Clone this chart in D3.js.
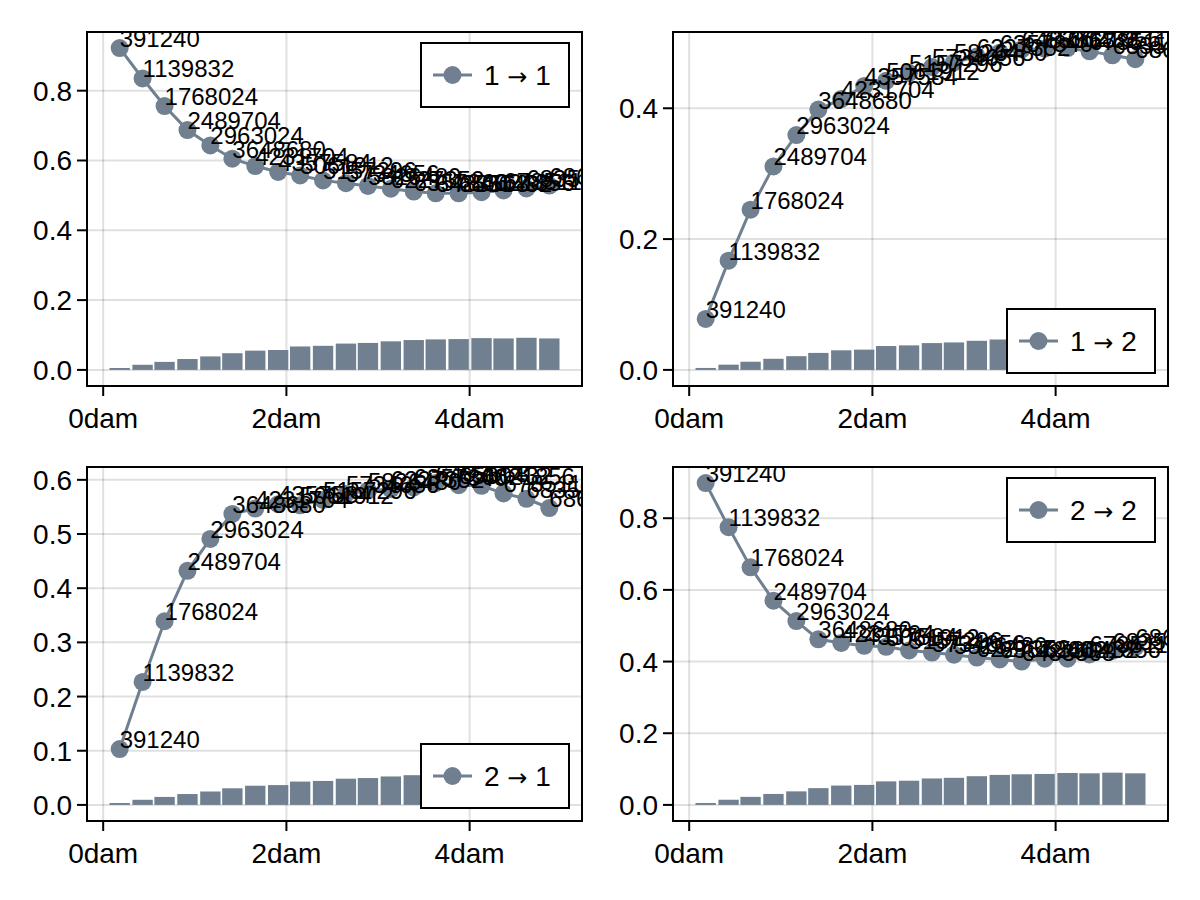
<!DOCTYPE html>
<html><head><meta charset="utf-8">
<script src="https://cdn.jsdelivr.net/npm/d3@7"></script>
<style>body{margin:0;background:#fff} svg{display:block}</style>
</head><body>
<script>
// ---------- data ----------
const distances = [0.18, 0.43, 0.67, 0.92, 1.17, 1.41, 1.66, 1.91, 2.15, 2.40, 2.65, 2.89, 3.14, 3.39, 3.63, 3.88, 4.13, 4.37, 4.62, 4.87];
const pointLabels = ["391240","1139832","1768024","2489704","2963024","3648680","4231704","4357584","5061912","5157296","5734656","5826480","6227352","6357840","6483568","6530432","6621856","6785112","6835920","6860400"];
const series11 = [0.922, 0.835, 0.756, 0.687, 0.643, 0.605, 0.584, 0.567, 0.557, 0.543, 0.535, 0.527, 0.519, 0.511, 0.506, 0.506, 0.509, 0.514, 0.520, 0.528];
const series12 = [0.078, 0.167, 0.245, 0.311, 0.359, 0.398, 0.414, 0.434, 0.442, 0.454, 0.463, 0.470, 0.479, 0.485, 0.490, 0.491, 0.492, 0.487, 0.481, 0.475];
const series21 = [0.103, 0.227, 0.339, 0.432, 0.491, 0.537, 0.547, 0.555, 0.553, 0.563, 0.574, 0.580, 0.583, 0.586, 0.594, 0.590, 0.589, 0.575, 0.565, 0.548];
const series22 = [0.898, 0.775, 0.663, 0.570, 0.513, 0.462, 0.452, 0.444, 0.441, 0.431, 0.425, 0.419, 0.411, 0.406, 0.400, 0.408, 0.408, 0.420, 0.430, 0.440];
const barShare = [0.06, 0.16, 0.25, 0.34, 0.42, 0.52, 0.60, 0.62, 0.73, 0.75, 0.82, 0.84, 0.89, 0.93, 0.95, 0.96, 0.99, 0.98, 1.00, 0.98];
const barMax = [0.092, 0.050, 0.059, 0.090];
const panelFrom = ["1", "1", "2", "2"];
const panelTo = ["1", "2", "1", "2"];
const yTicks11 = [0, 0.2, 0.4, 0.6, 0.8];
const yTicks12 = [0, 0.2, 0.4];
const yTicks21 = [0, 0.1, 0.2, 0.3, 0.4, 0.5, 0.6];
const yTicks22 = [0, 0.2, 0.4, 0.6, 0.8];
const xTicks = [0, 2, 4];
const xUnit = "dam";
const legendCorner = ["rt", "rb", "rb", "rt"];

// ---------- layout ----------
const W = 1200, H = 900;
const color = "#708090";
const font = "'Liberation Sans', Arial, Helvetica, sans-serif";
const panels = [
  {x0: 87, x1: 582, y0: 32, y1: 386, s: series11, t: yTicks11},
  {x0: 673, x1: 1168, y0: 32, y1: 386, s: series12, t: yTicks12},
  {x0: 87, x1: 582, y0: 467, y1: 821, s: series21, t: yTicks21},
  {x0: 673, x1: 1168, y0: 467, y1: 821, s: series22, t: yTicks22}
];
const spacing = (distances[distances.length-1] - distances[0]) / (distances.length - 1);
const barW = spacing * 0.9;

const svg = d3.select("body").append("svg").attr("width", W).attr("height", H)
  .style("font-family", font);

panels.forEach((p, k) => {
  const bars = barShare.map((v, i) => ({x: distances[i], h: v * barMax[k]}));
  const pts = p.s.map((v, i) => ({x: distances[i], y: v, label: pointLabels[i]}));
  const xlo = distances[0] - barW/2, xhi = distances[distances.length-1] + barW/2;
  const xm = (xhi - xlo) * 0.05;
  const ylo = Math.min(0, d3.min(p.s)), yhi = d3.max(p.s);
  const ym = (yhi - ylo) * 0.05;
  const x = d3.scaleLinear().domain([xlo - xm, xhi + xm]).range([p.x0, p.x1]);
  const y = d3.scaleLinear().domain([ylo - ym, yhi + ym]).range([p.y1, p.y0]);

  const g = svg.append("g");
  const clipId = "clip" + k;
  svg.append("clipPath").attr("id", clipId).append("rect")
    .attr("x", p.x0).attr("y", p.y0).attr("width", p.x1 - p.x0).attr("height", p.y1 - p.y0);

  // grid
  g.selectAll(".gx").data(xTicks).join("line")
    .attr("x1", d => x(d)).attr("x2", d => x(d)).attr("y1", p.y0).attr("y2", p.y1)
    .attr("stroke", "rgba(0,0,0,0.12)").attr("stroke-width", 2);
  g.selectAll(".gy").data(p.t).join("line")
    .attr("y1", d => y(d)).attr("y2", d => y(d)).attr("x1", p.x0).attr("x2", p.x1)
    .attr("stroke", "rgba(0,0,0,0.12)").attr("stroke-width", 2);

  const plot = g.append("g").attr("clip-path", `url(#${clipId})`);
  // bars
  plot.selectAll("rect.bar").data(bars).join("rect")
    .attr("x", d => x(d.x - barW/2)).attr("width", d => x(d.x + barW/2) - x(d.x - barW/2))
    .attr("y", d => y(d.h)).attr("height", d => y(0) - y(d.h))
    .attr("fill", color);
  // line
  plot.append("path").datum(pts)
    .attr("d", d3.line().x(d => x(d.x)).y(d => y(d.y)))
    .attr("fill", "none").attr("stroke", color).attr("stroke-width", 3);
  plot.selectAll("circle").data(pts).join("circle")
    .attr("cx", d => x(d.x)).attr("cy", d => y(d.y)).attr("r", 9).attr("fill", color);
  plot.selectAll("text.lbl").data(pts).join("text")
    .attr("x", d => x(d.x)).attr("y", d => y(d.y) - 1)
    .attr("font-size", 24).attr("fill", "#000").text(d => d.label);

  // spines
  g.append("rect").attr("x", p.x0).attr("y", p.y0).attr("width", p.x1 - p.x0).attr("height", p.y1 - p.y0)
    .attr("fill", "none").attr("stroke", "#000").attr("stroke-width", 2);

  // y ticks
  g.selectAll(".ty").data(p.t).join("line")
    .attr("x1", p.x0 - 10).attr("x2", p.x0).attr("y1", d => y(d)).attr("y2", d => y(d))
    .attr("stroke", "#000").attr("stroke-width", 2);
  g.selectAll(".tyl").data(p.t).join("text")
    .attr("x", p.x0 - 15).attr("y", d => y(d) + 10).attr("text-anchor", "end")
    .attr("font-size", 28).text(d => d3.format(".1f")(d));
  // x ticks
  g.selectAll(".tx").data(xTicks).join("line")
    .attr("x1", d => x(d)).attr("x2", d => x(d)).attr("y1", p.y1).attr("y2", p.y1 + 10)
    .attr("stroke", "#000").attr("stroke-width", 2);
  g.selectAll(".txl").data(xTicks).join("text")
    .attr("x", d => x(d)).attr("y", p.y1 + 42).attr("text-anchor", "middle")
    .attr("font-size", 28).text(d => d + xUnit);

  // legend
  const lw = 148, lh = 64;
  const lx = p.x1 - 13 - lw;
  const ly = legendCorner[k] === "rt" ? p.y0 + 11 : p.y1 - 13 - lh;
  const lg = g.append("g").attr("transform", `translate(${lx},${ly})`);
  lg.append("rect").attr("width", lw).attr("height", lh).attr("fill", "#fff")
    .attr("stroke", "#000").attr("stroke-width", 2);
  lg.append("line").attr("x1", 12).attr("x2", 51).attr("y1", lh/2).attr("y2", lh/2)
    .attr("stroke", color).attr("stroke-width", 3);
  lg.append("circle").attr("cx", 31.5).attr("cy", lh/2).attr("r", 9).attr("fill", color);
  const lt = lg.append("text").attr("x", 63).attr("y", lh/2 + 10).attr("font-size", 28);
  lt.append("tspan").text(panelFrom[k] + " ");
  lt.append("tspan").attr("font-family", "'DejaVu Sans', sans-serif").attr("font-size", 24).text("\u2192");
  lt.append("tspan").text(" " + panelTo[k]);
});
</script>
</body></html>
